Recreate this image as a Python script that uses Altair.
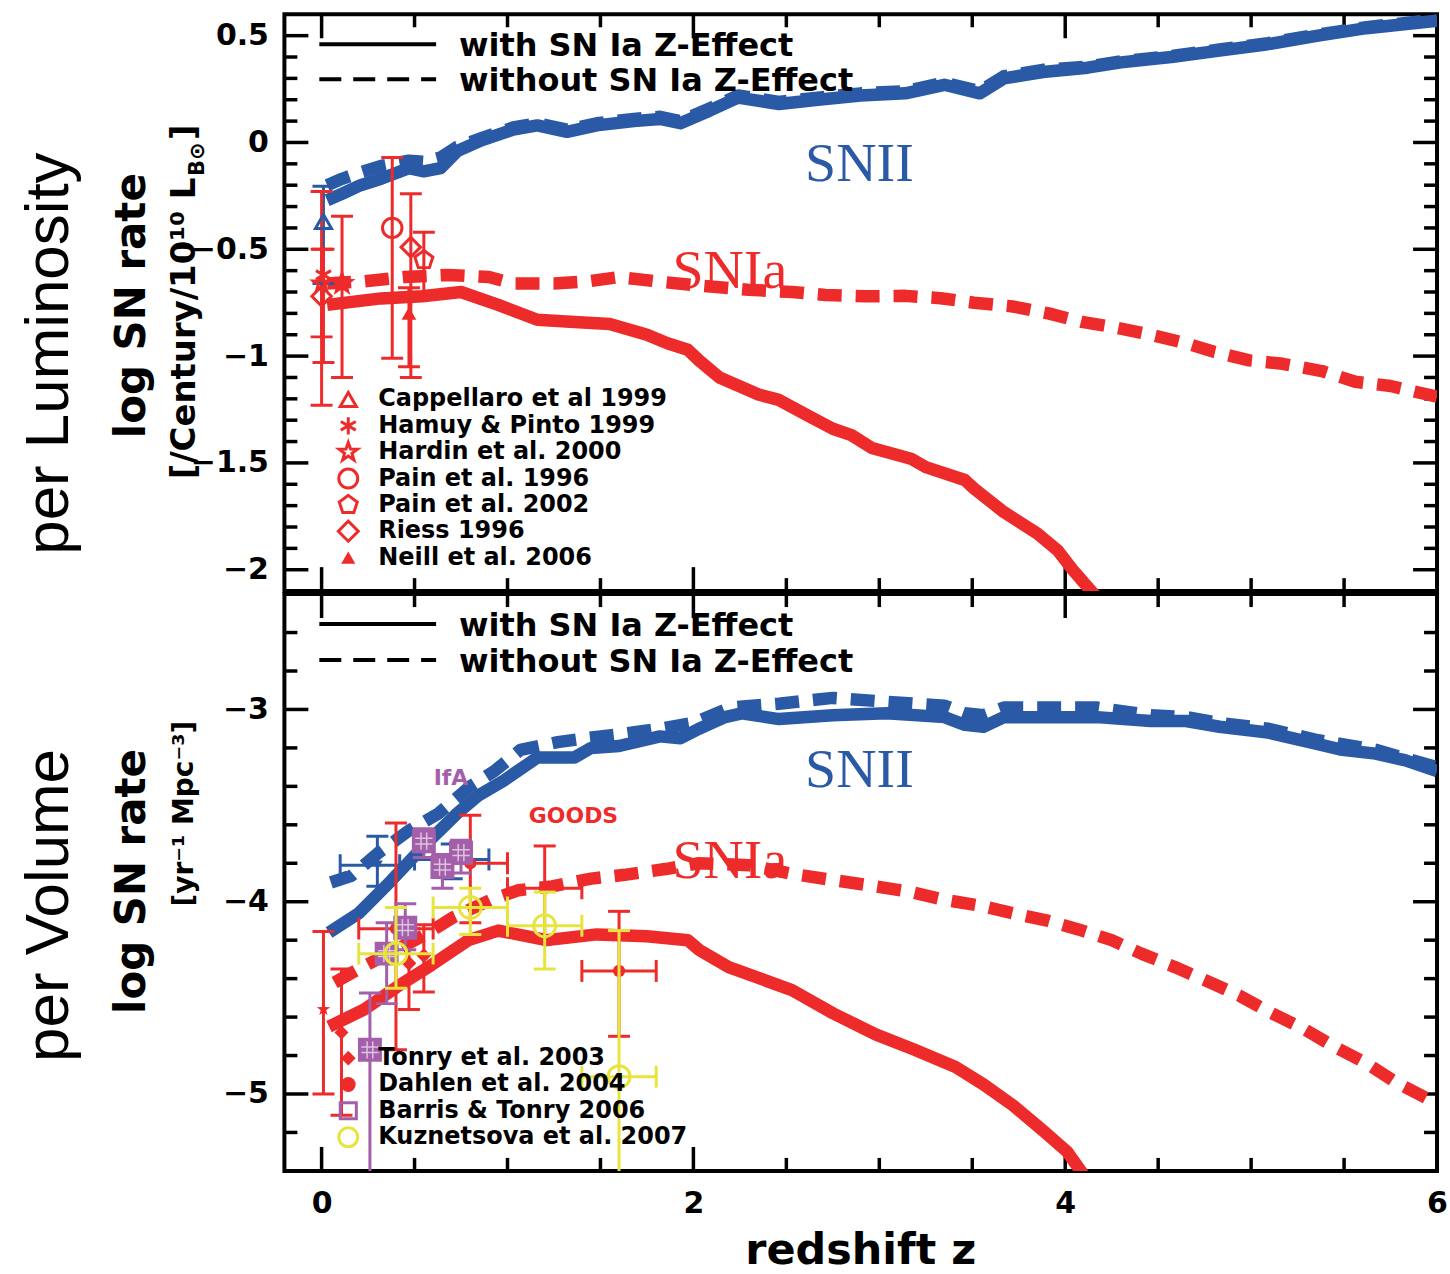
import altair as alt
import pandas as pd

# ================= DATA =================
# ---- model curves, per luminosity (top) ----
lum_II_z = [0.03, 0.11, 0.21, 0.32, 0.47, 0.55, 0.64, 0.73, 0.86, 1.03, 1.16, 1.32, 1.48, 1.68, 1.82, 1.93, 2.09,
            2.24, 2.46, 2.67, 2.90, 3.14, 3.35, 3.54, 3.67, 3.88, 4.12, 4.30, 4.57, 4.83, 5.09, 5.36, 5.62, 6.00]
lum_II_with = [-0.27, -0.24, -0.20, -0.17, -0.12, -0.135, -0.12, -0.04, 0.01, 0.06, 0.08, 0.05, 0.08, 0.10, 0.11,
               0.09, 0.15, 0.21, 0.18, 0.20, 0.22, 0.23, 0.27, 0.23, 0.30, 0.33, 0.35, 0.375, 0.40, 0.43, 0.46,
               0.50, 0.535, 0.57]
lum_II_without = [-0.20, -0.17, -0.14, -0.11, -0.085, -0.09, -0.07, -0.02, 0.02, 0.07, 0.09, 0.06, 0.09, 0.11,
                  0.12, 0.10, 0.16, 0.22, 0.19, 0.21, 0.23, 0.24, 0.28, 0.24, 0.31, 0.34, 0.355, 0.38, 0.405,
                  0.435, 0.465, 0.505, 0.54, 0.575]

lum_Ia_without_z = [0.03, 0.23, 0.45, 0.68, 0.90, 1.03, 1.25, 1.43, 1.60, 1.80, 2.03, 2.30, 2.53, 2.71, 2.93, 3.14,
                    3.33, 3.51, 3.72, 3.91, 4.09, 4.27, 4.46, 4.65, 4.80, 4.99, 5.17, 5.38, 5.56, 5.75, 6.00]
lum_Ia_without = [-0.66, -0.65, -0.63, -0.62, -0.63, -0.66, -0.66, -0.65, -0.63, -0.65, -0.67, -0.69, -0.70,
                  -0.714, -0.72, -0.718, -0.729, -0.75, -0.768, -0.80, -0.84, -0.866, -0.90, -0.94, -0.98,
                  -1.02, -1.036, -1.07, -1.12, -1.14, -1.19]
lum_Ia_with_z = [0.03, 0.32, 0.54, 0.75, 0.95, 1.16, 1.36, 1.55, 1.75, 1.86, 1.97, 2.03, 2.14, 2.35, 2.46, 2.64,
                 2.75, 2.85, 2.96, 3.17, 3.25, 3.46, 3.51, 3.67, 3.85, 3.96, 4.04, 4.16]
lum_Ia_with = [-0.76, -0.73, -0.72, -0.70, -0.76, -0.83, -0.84, -0.85, -0.90, -0.94, -0.97, -1.02, -1.10, -1.18,
               -1.205, -1.29, -1.34, -1.37, -1.43, -1.48, -1.52, -1.58, -1.62, -1.73, -1.83, -1.91, -2.0, -2.12]

# ---- model curves, per volume (bottom) ----
vol_II_with_z = [0.04, 0.20, 0.375, 0.55, 0.73, 0.84, 0.98, 1.16, 1.36, 1.45, 1.60, 1.82, 1.93, 2.03, 2.17, 2.26,
                 2.46, 2.75, 3.04, 3.35, 3.46, 3.56, 3.67, 3.93, 4.17, 4.46, 4.65, 4.83, 5.09, 5.36, 5.49, 5.67,
                 5.83, 6.00]
vol_II_with = [-4.16, -4.06, -3.89, -3.71, -3.54, -3.45, -3.37, -3.25, -3.25, -3.20, -3.19, -3.14, -3.15, -3.10,
               -3.04, -3.02, -3.05, -3.03, -3.02, -3.04, -3.08, -3.09, -3.04, -3.04, -3.04, -3.06, -3.06, -3.09,
               -3.12, -3.18, -3.21, -3.23, -3.265, -3.32]
vol_II_without_z = [0.05, 0.16, 0.30, 0.47, 0.63, 0.80, 0.93, 1.07, 1.27, 1.42, 1.60, 1.82, 2.00, 2.20, 2.46, 2.75,
                    3.04, 3.35, 3.46, 3.56, 3.67, 3.93, 4.17, 4.46, 4.65, 4.83, 5.09, 5.36, 5.67, 6.00]
vol_II_without = [-3.90, -3.865, -3.75, -3.63, -3.54, -3.40, -3.32, -3.21, -3.17, -3.15, -3.13, -3.10, -3.07,
                  -2.99, -2.97, -2.94, -2.96, -2.98, -3.02, -3.03, -2.99, -2.99, -2.99, -3.03, -3.04, -3.07,
                  -3.10, -3.16, -3.21, -3.30]
vol_Ia_without_z = [0.07, 0.20, 0.38, 0.56, 0.71, 0.91, 1.06, 1.24, 1.45, 1.63, 1.85, 2.03, 2.30, 2.53, 2.77, 2.98,
                    3.17, 3.35, 3.54, 3.72, 3.91, 4.09, 4.25, 4.41, 4.59, 4.78, 4.94, 5.09, 5.28, 5.44, 5.62,
                    5.78, 6.00]
vol_Ia_without = [-4.42, -4.35, -4.26, -4.17, -4.08, -3.99, -3.94, -3.92, -3.88, -3.86, -3.83, -3.80, -3.81,
                  -3.855, -3.89, -3.92, -3.95, -3.99, -4.02, -4.06, -4.10, -4.15, -4.20, -4.27, -4.34, -4.42,
                  -4.49, -4.57, -4.66, -4.75, -4.84, -4.94, -5.05]
vol_Ia_with_z = [0.04, 0.23, 0.41, 0.59, 0.79, 0.95, 1.21, 1.48, 1.75, 1.97, 2.03, 2.19, 2.53, 2.75, 2.98, 3.19,
                 3.41, 3.56, 3.72, 3.88, 4.01, 4.12]
vol_Ia_with = [-4.65, -4.56, -4.44, -4.33, -4.20, -4.15, -4.20, -4.17, -4.18, -4.20, -4.25, -4.34, -4.46, -4.58,
               -4.69, -4.77, -4.86, -4.95, -5.06, -5.19, -5.30, -5.45]

# ---- observations, per luminosity ----
lum_obs_z = [0.01, 0.01, 0.0, 0.0, 0.11, 0.38, 0.48, 0.55, 0.47]
lum_obs_v = [-0.37, -0.62, -0.66, -0.72, -0.66, -0.40, -0.49, -0.55, -0.80]
lum_obs_lo = [-0.66, -1.03, -0.91, -1.23, -1.10, -1.01, -1.10, -0.71, -1.05]
lum_obs_hi = [-0.205, -0.50, -0.50, -0.23, -0.345, -0.07, -0.24, -0.42, -0.68]

# ---- observations, per volume ----
vol_II_obs_z = [0.30, 0.70]
vol_II_obs_v = [-3.81, -3.78]
vol_II_obs_lo = [-3.92, -3.88]
vol_II_obs_hi = [-3.66, -3.70]
vol_II_obs_zlo = [0.10, 0.50]
vol_II_obs_zhi = [0.42, 0.90]

goods_z = [0.4, 0.8, 1.2, 1.6]
goods_v = [-4.14, -3.80, -3.93, -4.36]
goods_lo = [-4.77, -4.11, -4.20, -4.70]
goods_hi = [-3.59, -3.55, -3.71, -4.05]
goods_zlo = [0.2, 0.6, 1.0, 1.4]
goods_zhi = [0.6, 1.0, 1.4, 1.8]

kuz_z = [0.4, 0.8, 1.2, 1.6]
kuz_v = [-4.27, -4.03, -4.125, -4.91]
kuz_lo = [-4.45, -4.17, -4.35, -5.45]
kuz_hi = [-4.03, -3.93, -3.95, -4.15]
kuz_zlo = [0.2, 0.6, 1.0, 1.4]
kuz_zhi = [0.6, 1.0, 1.4, 1.8]

barris_z = [0.26, 0.35, 0.45, 0.55, 0.65, 0.75]
barris_v = [-4.77, -4.27, -4.135, -3.685, -3.82, -3.745]
barris_lo = [-5.45, -4.53, -4.25, -3.77, -3.93, -3.85]
barris_hi = [-4.475, -4.11, -4.01, -3.62, -3.755, -3.68]

red_obs_z = [0.01, 0.107, 0.47, 0.55]
red_obs_v = [-4.56, -4.68, -4.32, -4.28]
red_obs_lo = [-5.0, -5.11, -4.56, -4.47]
red_obs_hi = [-4.155, -4.35, -4.14, -4.12]

lum_legend = ["Cappellaro et al 1999", "Hamuy & Pinto 1999", "Hardin et al. 2000", "Pain et al. 1996",
              "Pain et al. 2002", "Riess 1996", "Neill et al. 2006"]
vol_legend = ["Tonry et al. 2003", "Dahlen et al. 2004", "Barris & Tonry 2006", "Kuznetsova et al. 2007"]

# ================= STYLE =================
W, H = 1155, 578
BLUE = "#2a5aa6"
RED = "#ee2b2b"
PURPLE = "#a35fa9"
YELLOW = "#e8e43e"
FONT = "DejaVu Sans"
STAR = "M0,-1L0.235,-0.324L0.951,-0.309L0.38,0.124L0.588,0.809L0,0.4L-0.588,0.809L-0.38,0.124L-0.951,-0.309L-0.235,-0.324Z"
PENT = "M0,-1L0.951,-0.309L0.588,0.809L-0.588,0.809L-0.951,-0.309Z"
ASTER = "M0,-1L0,1M-0.87,-0.5L0.87,0.5M-0.87,0.5L0.87,-0.5"
PLUS = "M-1,0L1,0M0,-1L0,1"
HASH = "M-1,-0.33L1,-0.33M-1,0.33L1,0.33M-0.33,-1L-0.33,1M0.33,-1L0.33,1"

lum_obs_shape = ["triangle-up", ASTER, STAR, "diamond", STAR, "circle", "diamond", PENT, "triangle-up"]
lum_obs_color = [BLUE] + [RED] * 8
lum_obs_filled = [False, False, False, False, False, False, False, False, True]
lum_obs_size = [260, 300, 300, 380, 380, 380, 380, 360, 220]

red_obs_shape = [STAR, "diamond", "diamond", "diamond"]
red_obs_size = [200, 200, 220, 220]

xscale = alt.Scale(domain=[-0.2, 6.0], nice=False, zero=False)
ys_top = alt.Scale(domain=[-2.1, 0.6], nice=False, zero=False)
ys_bot = alt.Scale(domain=[-5.4, -2.4], nice=False, zero=False)

top_y_major = [0.5, 0, -0.5, -1, -1.5, -2]
top_y_minor = [round(-2.0 + 0.1 * i, 1) for i in range(0, 26) if round(-2.0 + 0.1 * i, 1) not in top_y_major]
bot_y_major = [-3, -4, -5]
bot_y_minor = [round(-5.2 + 0.2 * i, 1) for i in range(0, 14) if round(-5.2 + 0.2 * i, 1) not in bot_y_major]
x_major = [0, 2, 4]
x_minor = [0.5, 1, 1.5, 2.5, 3, 3.5, 4.5, 5, 5.5]


def yaxis(vals):
    return alt.Axis(values=vals, format="~g", ticks=False, domain=False, grid=False, labelFont=FONT,
                    labelFontSize=30, labelFontWeight="bold", labelColor="black", labelPadding=16, title=None)


ya_top = yaxis(top_y_major)
ya_bot = yaxis(bot_y_major)
xa_bot = alt.Axis(values=[0, 2, 4, 6], format="~g", ticks=False, domain=False, grid=False, labelFont=FONT,
                  labelFontSize=30, labelFontWeight="bold", labelColor="black", labelPadding=18,
                  labelFlush=False, title=None)


def X(field, xa):
    return alt.X(field, scale=xscale, axis=xa)


def Y(field, ys, ya):
    return alt.Y(field, scale=ys, axis=ya)


def curve(z, v, color, ys, ya, xa, dash=False):
    df = pd.DataFrame({"z": z, "v": v})
    kw = dict(color=color, strokeWidth=12.5, clip=True, strokeJoin="round")
    if dash:
        kw["strokeDash"] = [24, 14]
    return alt.Chart(df).mark_line(**kw).encode(x=X("z:Q", xa), y=Y("v:Q", ys, ya))


def ticks(ys, ya, xa, ymaj, ymin):
    out = []
    for vals, L in ((ymaj, 24), (ymin, 13)):
        df = pd.DataFrame({"v": vals})
        for x0, x1 in ((0, L), (W - L, W)):
            out.append(alt.Chart(df).mark_rule(color="black", strokeWidth=3.5).encode(
                y=Y("v:Q", ys, ya), x=alt.value(x0), x2=alt.value(x1)))
    for vals, L in ((x_major, 24), (x_minor, 13)):
        df = pd.DataFrame({"z": vals})
        for y0, y1 in ((1, L), (H - L, H - 1)):
            out.append(alt.Chart(df).mark_rule(color="black", strokeWidth=3.5).encode(
                x=X("z:Q", xa), y=alt.value(y0), y2=alt.value(y1)))
    return out


def errbars(df, ys, ya, xa, horiz=False):
    out = []
    col = alt.Color("color:N", scale=None)
    out.append(alt.Chart(df).mark_rule(strokeWidth=3, clip=True).encode(
        x=X("z:Q", xa), y=Y("lo:Q", ys, ya), y2="hi:Q", color=col))
    caps = pd.concat([df.assign(c=df["lo"]), df.assign(c=df["hi"])])
    out.append(alt.Chart(caps).mark_point(shape="stroke", size=484, strokeWidth=3, filled=False, opacity=1,
                                          clip=True).encode(x=X("z:Q", xa), y=Y("c:Q", ys, ya), color=col))
    if horiz:
        out.append(alt.Chart(df).mark_rule(strokeWidth=3, clip=True).encode(
            x=X("zlo:Q", xa), x2="zhi:Q", y=Y("v:Q", ys, ya), color=col))
        hc = pd.concat([df.assign(c=df["zlo"]), df.assign(c=df["zhi"])])
        out.append(alt.Chart(hc).mark_point(shape="stroke", angle=90, size=484, strokeWidth=3, filled=False,
                                            opacity=1, clip=True).encode(
            x=X("c:Q", xa), y=Y("v:Q", ys, ya), color=col))
    return out


def markers(df, ys, ya, xa, filled, sw=3):
    return alt.Chart(df).mark_point(filled=filled, strokeWidth=sw, opacity=1, clip=True).encode(
        x=X("z:Q", xa), y=Y("v:Q", ys, ya), shape=alt.Shape("shape:N", scale=None),
        color=alt.Color("color:N", scale=None), size=alt.Size("size:Q", scale=None))


def ptext(t, x, y, size, font=FONT, weight="bold", angle=0, align="left", color="black"):
    return alt.Chart(pd.DataFrame({"t": [t]})).mark_text(
        font=font, fontSize=size, fontWeight=weight, angle=angle, align=align, baseline="middle",
        color=color).encode(x=alt.value(x), y=alt.value(y), text="t:N")


def dtext(t, z, v, size, color, ys, ya, xa, font="Liberation Serif", weight="normal"):
    return alt.Chart(pd.DataFrame({"z": [z], "v": [v], "t": [t]})).mark_text(
        font=font, fontSize=size, fontWeight=weight, color=color, align="center", baseline="middle").encode(
        x=X("z:Q", xa), y=Y("v:Q", ys, ya), text="t:N")


def line_legend(y1, y2):
    one = pd.DataFrame({"a": [0]})
    return [
        alt.Chart(one).mark_rule(color="black", strokeWidth=4).encode(
            x=alt.value(35), x2=alt.value(152), y=alt.value(y1)),
        alt.Chart(one).mark_rule(color="black", strokeWidth=4, strokeDash=[22, 12]).encode(
            x=alt.value(35), x2=alt.value(152), y=alt.value(y2)),
        ptext("with SN Ia Z-Effect", 175, y1 + 2, 32),
        ptext("without SN Ia Z-Effect", 175, y2 + 2, 32),
    ]


def glyph(shape, color, filled, size, y):
    one = pd.DataFrame({"a": [0]})
    return alt.Chart(one).mark_point(shape=shape, color=color, filled=filled, size=size, strokeWidth=3,
                                     opacity=1).encode(x=alt.value(64), y=alt.value(y))


# ================= TOP PANEL =================
xa = None
T = []
T += ticks(ys_top, ya_top, xa, top_y_major, top_y_minor)
T.append(curve(lum_II_z, lum_II_with, BLUE, ys_top, ya_top, xa))
T.append(curve(lum_II_z, lum_II_without, BLUE, ys_top, ya_top, xa, dash=True))
T.append(curve(lum_Ia_without_z, lum_Ia_without, RED, ys_top, ya_top, xa, dash=True))
T.append(curve(lum_Ia_with_z, lum_Ia_with, RED, ys_top, ya_top, xa))

lum_df = pd.DataFrame({"z": lum_obs_z, "v": lum_obs_v, "lo": lum_obs_lo, "hi": lum_obs_hi,
                       "color": lum_obs_color, "shape": lum_obs_shape, "size": lum_obs_size,
                       "filled": lum_obs_filled})
T += errbars(lum_df, ys_top, ya_top, xa)
T.append(markers(lum_df[~lum_df["filled"]], ys_top, ya_top, xa, False))
T.append(markers(lum_df[lum_df["filled"]], ys_top, ya_top, xa, True))

T.append(dtext("SNII", 2.893, -0.10, 56, BLUE, ys_top, ya_top, xa))
T.append(dtext("SNIa", 2.196, -0.60, 56, RED, ys_top, ya_top, xa))
T += line_legend(30, 65)
lum_leg_shape = ["triangle-up", ASTER, STAR, "circle", PENT, "diamond", "triangle-up"]
lum_leg_filled = [False, False, False, False, False, False, True]
lum_leg_size = [260, 300, 380, 360, 360, 400, 200]
for i, lab in enumerate(lum_legend):
    yy = 386 + 26.4 * i
    T.append(glyph(lum_leg_shape[i], RED, lum_leg_filled[i], lum_leg_size[i], yy))
    T.append(ptext(lab, 94, yy, 24))

T.append(ptext("per Luminosity", -236, 340, 62, font="Liberation Sans", weight="normal", angle=270,
               align="center"))
T.append(ptext("log SN rate", -153, 292, 42, angle=270, align="center"))
T.append(ptext("[/Century/10\u00b9\u2070 L", -100, 466, 34, angle=270, align="left"))
T.append(ptext("B\u2299", -87, 162, 21, angle=270, align="left"))
T.append(ptext("]", -100, 126, 34, angle=270, align="left"))

top = alt.layer(*T).properties(width=W, height=H)

# ================= BOTTOM PANEL =================
xa = xa_bot
B = []
B += ticks(ys_bot, ya_bot, xa, bot_y_major, bot_y_minor)
B.append(curve(vol_II_with_z, vol_II_with, BLUE, ys_bot, ya_bot, xa))
B.append(curve(vol_II_without_z, vol_II_without, BLUE, ys_bot, ya_bot, xa, dash=True))
B.append(curve(vol_Ia_without_z, vol_Ia_without, RED, ys_bot, ya_bot, xa, dash=True))
B.append(curve(vol_Ia_with_z, vol_Ia_with, RED, ys_bot, ya_bot, xa))

ii_df = pd.DataFrame({"z": vol_II_obs_z, "v": vol_II_obs_v, "lo": vol_II_obs_lo, "hi": vol_II_obs_hi,
                      "zlo": vol_II_obs_zlo, "zhi": vol_II_obs_zhi, "color": BLUE,
                      "shape": "triangle-down", "size": 120})
B += errbars(ii_df, ys_bot, ya_bot, xa, horiz=True)
B.append(markers(ii_df, ys_bot, ya_bot, xa, True))

g_df = pd.DataFrame({"z": goods_z, "v": goods_v, "lo": goods_lo, "hi": goods_hi, "zlo": goods_zlo,
                     "zhi": goods_zhi, "color": RED, "shape": "circle", "size": 150})
B += errbars(g_df, ys_bot, ya_bot, xa, horiz=True)
B.append(markers(g_df, ys_bot, ya_bot, xa, True))

r_df = pd.DataFrame({"z": red_obs_z, "v": red_obs_v, "lo": red_obs_lo, "hi": red_obs_hi, "color": RED,
                     "shape": red_obs_shape, "size": red_obs_size})
B += errbars(r_df, ys_bot, ya_bot, xa)
B.append(markers(r_df, ys_bot, ya_bot, xa, True))

b_df = pd.DataFrame({"z": barris_z, "v": barris_v, "lo": barris_lo, "hi": barris_hi, "color": PURPLE,
                     "shape": "square", "size": 576})
B += errbars(b_df, ys_bot, ya_bot, xa)
B.append(markers(b_df, ys_bot, ya_bot, xa, True))
B.append(markers(b_df.assign(shape=HASH, color="#dcc3de", size=300), ys_bot, ya_bot, xa, False, sw=1.5))

k_df = pd.DataFrame({"z": kuz_z, "v": kuz_v, "lo": kuz_lo, "hi": kuz_hi, "zlo": kuz_zlo, "zhi": kuz_zhi,
                     "color": YELLOW, "shape": "circle", "size": 484})
B += errbars(k_df, ys_bot, ya_bot, xa, horiz=True)
B.append(markers(k_df, ys_bot, ya_bot, xa, False))
B.append(markers(k_df.assign(shape=PLUS, size=110), ys_bot, ya_bot, xa, False, sw=2))

B.append(dtext("SNII", 2.893, -3.316, 56, BLUE, ys_bot, ya_bot, xa))
B.append(dtext("SNIa", 2.196, -3.79, 56, RED, ys_bot, ya_bot, xa))
B.append(dtext("IfA", 0.696, -3.357, 22, PURPLE, ys_bot, ya_bot, xa, font=FONT, weight="bold"))
B.append(dtext("GOODS", 1.355, -3.554, 22, RED, ys_bot, ya_bot, xa, font=FONT, weight="bold"))
B += line_legend(30, 66)
vol_leg_shape = ["diamond", "circle", "square", "circle"]
vol_leg_color = [RED, RED, PURPLE, YELLOW]
vol_leg_filled = [True, True, False, False]
vol_leg_size = [220, 220, 260, 360]
for i, lab in enumerate(vol_legend):
    yy = 465 + 26.4 * i
    B.append(glyph(vol_leg_shape[i], vol_leg_color[i], vol_leg_filled[i], vol_leg_size[i], yy))
    B.append(ptext(lab, 94, yy, 24))

B.append(ptext("per Volume", -236, 312, 62, font="Liberation Sans", weight="normal", angle=270,
               align="center"))
B.append(ptext("log SN rate", -153, 288, 42, angle=270, align="center"))
B.append(ptext("[yr\u207b\u00b9 Mpc\u207b\u00b3]", -100, 220, 28, angle=270, align="center"))
B.append(ptext("redshift z", W / 2, 658, 43, align="center"))

bottom = alt.layer(*B).properties(width=W, height=H)

chart = alt.vconcat(top, bottom, spacing=-4).resolve_scale(x="independent", y="independent").properties(
    padding={"left": 16, "top": 10, "right": 0, "bottom": 0}, background="white"
).configure_view(stroke="black", strokeWidth=4)

chart.save("out.html", embed_options={"renderer": "svg", "actions": False})
